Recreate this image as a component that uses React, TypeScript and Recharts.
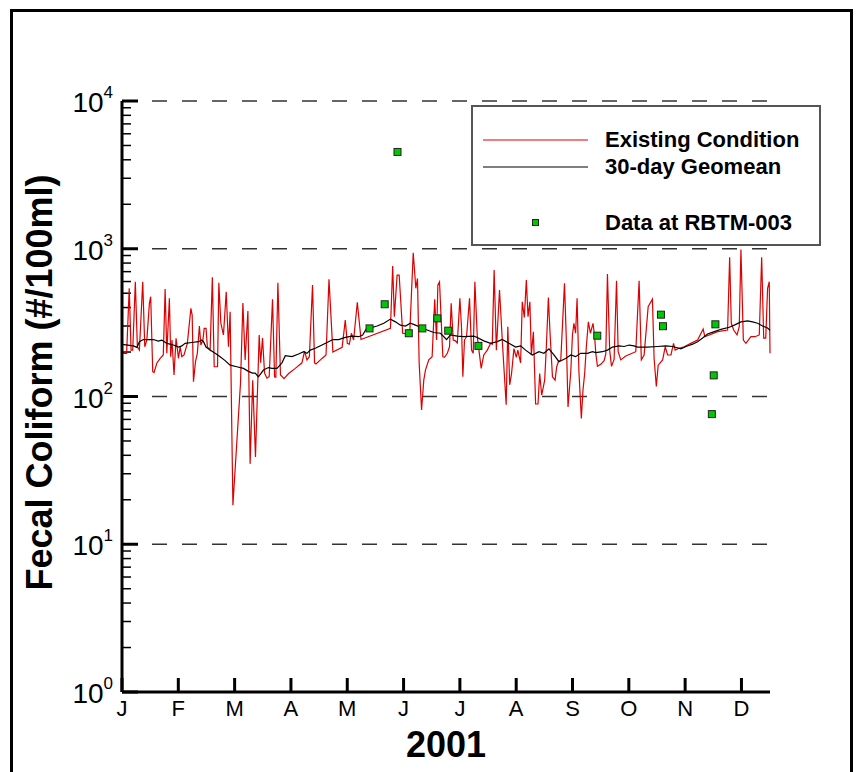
import React from 'react';
import { ComposedChart, Line, Scatter, XAxis, YAxis, ReferenceLine, Legend, Label } from 'recharts';

const FONT = '"Liberation Sans", Arial, Helvetica, sans-serif';
const RED = '#dd0000';
const GREEN = '#00c800';

const monthLabels = ['J', 'F', 'M', 'A', 'M', 'J', 'J', 'A', 'S', 'O', 'N', 'D'];
const monthTicks = monthLabels.map((_, i) => (i * 365) / 12);

const decades = [1, 10, 100, 1000, 10000];
const minorSteps = [2, 3, 4, 5, 6, 7, 8, 9];
const minorTicks = decades.slice(0, -1).flatMap(d => minorSteps.map(m => m * d));
const gridValues = [10, 100, 1000, 10000];

// plot is 648px wide for 350 days; minor y tick length expressed in days
const MINOR_TICK = 9 * (350 / 648);

// [day of 2001, #/100ml] - vertices of the modelled series
const existingCondition: [number, number][] = [
    [0.5, 196], [2.5, 196], [3.9, 540], [4.9, 206], [5.8, 206], [7.2, 598], [8.3, 217], [9.4, 206], [11.2, 598], [12.3, 217],
    [13.4, 241], [14.8, 427], [15.5, 474], [16.6, 147], [17.3, 145], [18.8, 168], [20.6, 181], [22.3, 191], [23.3, 534], [24.2, 196],
    [25.6, 462], [26.3, 186], [27, 241], [28.1, 140], [29.2, 248], [30.5, 181], [31.4, 217], [32.3, 186], [33.5, 191], [35.3, 229],
    [37.2, 395], [37.9, 356], [38.6, 126], [39.7, 172], [40.7, 196], [41.8, 300], [42.6, 223], [43.7, 241], [44.4, 289], [45.4, 289],
    [46.1, 217], [47.6, 206], [48.8, 640], [49.8, 159], [51.6, 159], [52.3, 589], [53.4, 313], [54.8, 261], [56.3, 512], [57.5, 217],
    [58.4, 375], [59.9, 18.4], [64, 123], [65.3, 429], [66.5, 177], [68, 379], [69.2, 35], [70.6, 129], [72.1, 39], [74.1, 261],
    [74.9, 169], [75.9, 249], [77, 144], [78.3, 133], [79.5, 136], [81.3, 455], [82.4, 136], [83.1, 135], [84.2, 589], [85.6, 140],
    [87.5, 132], [90, 143], [93.6, 155], [97.2, 169], [98.6, 203], [99.9, 177], [101.2, 186], [102.9, 568], [104, 169], [104.8, 166],
    [108, 181], [110.2, 191], [111.8, 621], [113.9, 200], [118.9, 215], [120.6, 329], [121.7, 229], [122.8, 226], [123.9, 268], [125.1, 241],
    [127.1, 434], [129.1, 243], [145, 289], [146.2, 764], [147.1, 347], [148.6, 664], [149.7, 664], [151.6, 268], [155.4, 265], [157.3, 940],
    [158.7, 540], [159.6, 630], [160.5, 169], [161.8, 81], [163, 129], [163.9, 151], [165.7, 177], [167.5, 186], [168.9, 455], [169.9, 241],
    [170.6, 568], [171.5, 598], [172.4, 329], [173.3, 186], [174.2, 184], [175.7, 196], [176.9, 217], [177.8, 427], [178.9, 241], [180.1, 238],
    [181.1, 230], [182.5, 462], [183.4, 289], [184.1, 136], [185, 241], [186.1, 254], [187.7, 462], [188.8, 206], [189.7, 196], [190.6, 598],
    [191.9, 254], [194, 155], [195.4, 191], [197.3, 206], [199.1, 229], [200, 226], [201, 718], [202.2, 206], [203.9, 526], [205.6, 217],
    [207.5, 88], [208.4, 297], [209.4, 120], [210.4, 143], [211.7, 211], [213, 184], [213.8, 206], [215.3, 169], [216.2, 438], [217.3, 343],
    [218.4, 614], [219.3, 347], [220.3, 438], [221.1, 191], [222.2, 274], [223.4, 89], [224.7, 89], [225.6, 143], [226.7, 102], [228.3, 129],
    [229.2, 217], [230.3, 468], [231.2, 268], [232.5, 136], [233.9, 129], [234.8, 159], [235.7, 172], [237, 177], [239, 583], [240, 241],
    [240.9, 85], [242.4, 147], [243.3, 261], [244.1, 313], [245, 268], [245.8, 462], [246.8, 147], [248.1, 71], [249, 111], [249.9, 143],
    [250.8, 217], [251.9, 320], [253, 268], [254.4, 313], [255.3, 254], [255.9, 196], [256.8, 160], [258.6, 165], [260.4, 175], [261.3, 194],
    [262.2, 675], [263.4, 206], [264.4, 160], [265.8, 178], [267.1, 607], [268, 201], [269.4, 177], [272.1, 188], [277.5, 201], [279.3, 607],
    [280.5, 177], [282, 191], [284.2, 405], [286.5, 455], [287.4, 181], [288.6, 117], [289.6, 163], [292, 177], [293.4, 217], [294.7, 191],
    [296.5, 191], [297.9, 229], [298.8, 206], [300.9, 212], [303.6, 217], [307.2, 229], [310.9, 241], [313.9, 286], [314.8, 254], [321.7, 275],
    [327.1, 282], [328.2, 877], [329.1, 313], [330.4, 282], [332.2, 261], [333.4, 297], [334.3, 990], [335.6, 241], [337, 229], [339.7, 254],
    [341.9, 254], [344.2, 261], [345.5, 877], [346.6, 248], [347.7, 248], [348.7, 540], [349.6, 598], [350, 196],
];

const geomean30: [number, number][] = [
    [0, 225], [6.1, 220], [8.1, 215], [9.4, 235], [11.5, 243], [16.9, 243], [19.6, 237], [21.5, 241], [24.2, 229], [27.8, 223],
    [30.5, 216], [32.3, 220], [34.1, 229], [37.7, 232], [41.3, 235], [43.1, 241], [44, 235], [45.4, 216], [47.6, 206], [50.3, 196],
    [53, 186], [55.7, 175], [58.4, 163], [62, 159], [65.6, 155], [68.3, 148], [70.5, 144], [71.9, 144], [73.7, 136], [76.4, 151],
    [79.1, 157], [81, 155], [83.7, 155], [86.4, 169], [88.2, 189], [91.8, 186], [95.4, 194], [98.1, 201], [99.9, 196], [101.7, 206],
    [104.4, 212], [108, 223], [111.6, 235], [113.8, 243], [117, 243], [120.6, 251], [124.3, 256], [127.8, 254], [130, 261], [131.8, 285],
    [137.8, 300], [141.4, 313], [145, 334], [147.7, 320], [150.4, 304], [153.1, 300], [155.8, 313], [158.5, 304], [161.2, 294], [164.8, 282],
    [168.4, 271], [172, 268], [175.3, 243], [177.4, 261], [181.1, 256], [184.6, 254], [190, 256], [191.9, 251], [195.4, 238], [199.1, 229],
    [202.7, 235], [205.4, 243], [209, 229], [212.6, 216], [215.3, 220], [218, 206], [221.6, 191], [225.2, 201], [227.9, 196], [230.6, 210],
    [233.3, 191], [236, 172], [239.6, 181], [242.4, 191], [245, 186], [247.7, 196], [251.4, 196], [254.1, 201], [255.9, 198], [259.5, 201],
    [262.2, 206], [264.9, 216], [268.5, 220], [271.2, 218], [273.9, 223], [276.6, 220], [278.4, 216], [283.8, 216], [289.3, 218], [293.7, 220],
    [297.4, 218], [301.9, 210], [304.6, 218], [308.2, 226], [310.9, 235], [313.6, 249], [316.3, 265], [319.9, 275], [323.5, 285], [328, 294],
    [330.7, 304], [334.3, 320], [337.9, 325], [340.6, 320], [343.3, 313], [346, 300], [348.7, 291], [350, 280],
];

const stationSamples: [number, number][] = [
    [133.7, 289], [141.9, 421], [148.8, 4520], [154.9, 268], [162.2, 289], [170.3, 338], [176.2, 279],
    [192.5, 220], [256.7, 258], [291.1, 358], [292.2, 299], [318.6, 76], [319.6, 139], [320.5, 308],
];

const toRows = (pairs: [number, number][]) => pairs.map(([day, value]) => ({ day, value }));
const existingRows = toRows(existingCondition);
const geomeanRows = toRows(geomean30);
const sampleRows = toRows(stationSamples);

const YTick = (props: any) => {
    const { x, y, payload } = props;
    const exp = Math.round(Math.log10(payload.value));
    return (
        <text x={x - 9} y={y + 11} textAnchor="end" fontSize={28} fontFamily={FONT} fill="#000">
            10<tspan dy={-14} fontSize={17}>{exp}</tspan>
        </text>
    );
};

const XTick = (props: any) => {
    const { x, y, index } = props;
    return (
        <text x={x} y={y + 24} textAnchor="middle" fontSize={22} fontFamily={FONT} fill="#000">{monthLabels[index]}</text>
    );
};

const SquareMarker = (props: any) => (
    <rect x={props.cx - 3.5} y={props.cy - 3.5} width={7} height={7} fill={GREEN} stroke="#222" strokeWidth={1} />
);

const YTitle = (props: any) => {
    const vb = props.viewBox;
    const cy = vb.y + vb.height / 2 - 14;
    return (
        <text transform={`translate(52,${cy}) rotate(-90)`} textAnchor="middle" fontSize={36} fontWeight="bold" fontFamily={FONT} fill="#000">
            Fecal Coliform (#/100ml)
        </text>
    );
};

const XTitle = (props: any) => {
    const vb = props.viewBox;
    return (
        <text x={vb.x + vb.width / 2} y={vb.y + 65} textAnchor="middle" fontSize={36} fontWeight="bold" fontFamily={FONT} fill="#000">
            2001
        </text>
    );
};

const LegendBox = () => (
    <svg width={350} height={141} style={{ display: 'block' }}>
        <rect x={1} y={1} width={348} height={139} fill="#fff" stroke="#555" strokeWidth={2} />
        <line x1={12} x2={117} y1={35} y2={35} stroke={RED} strokeWidth={1.2} />
        <text x={134} y={42} fontSize={22} fontWeight="bold" fontFamily={FONT} fill="#000">Existing Condition</text>
        <line x1={12} x2={117} y1={62} y2={62} stroke="#000" strokeWidth={1.2} />
        <text x={134} y={69} fontSize={22} fontWeight="bold" fontFamily={FONT} fill="#000">30-day Geomean</text>
        <rect x={61.5} y={114.5} width={6} height={6} fill={GREEN} stroke="#222" strokeWidth={1} />
        <text x={134} y={125} fontSize={22} fontWeight="bold" fontFamily={FONT} fill="#000">Data at RBTM-003</text>
    </svg>
);

export default function App() {
    return (
        <div style={{ position: 'absolute', left: 0, top: 0, width: 862, height: 772, overflow: 'hidden', background: '#fff' }}>
            <div style={{ position: 'absolute', left: 10, top: 9, width: 843, height: 800, border: '3px solid #000', boxSizing: 'border-box' }} />
            <ComposedChart width={862} height={772} margin={{ top: 101, right: 92, bottom: 0, left: 0 }}>
                <XAxis
                    dataKey="day"
                    type="number"
                    domain={[0, 350]}
                    ticks={monthTicks}
                    interval={0}
                    height={80}
                    tickSize={-14}
                    tickMargin={14}
                    tickLine={{ stroke: '#000', strokeWidth: 3 }}
                    tick={<XTick />}
                    axisLine={{ stroke: '#000', strokeWidth: 3 }}
                >
                    <Label content={<XTitle />} />
                </XAxis>
                <YAxis
                    dataKey="value"
                    type="number"
                    scale="log"
                    domain={[1, 10000]}
                    ticks={decades}
                    interval={0}
                    width={122}
                    tickSize={-16}
                    tickMargin={16}
                    tickLine={{ stroke: '#000', strokeWidth: 3 }}
                    tick={<YTick />}
                    axisLine={{ stroke: '#000', strokeWidth: 3 }}
                >
                    <Label content={<YTitle />} />
                </YAxis>

                {gridValues.map(v => (
                    <ReferenceLine key={`g${v}`} y={v} stroke="#333" strokeWidth={1.5} strokeDasharray="15 15" />
                ))}
                {minorTicks.map(v => (
                    <ReferenceLine key={`m${v}`} segment={[{ x: 0, y: v }, { x: MINOR_TICK, y: v }]} stroke="#000" strokeWidth={1.5} />
                ))}

                <Line data={existingRows} dataKey="value" type="linear" stroke={RED} strokeWidth={1.2} dot={false} activeDot={false} isAnimationActive={false} />
                <Line data={geomeanRows} dataKey="value" type="linear" stroke="#000" strokeWidth={1.2} dot={false} activeDot={false} isAnimationActive={false} />
                <Scatter data={sampleRows} dataKey="value" shape={<SquareMarker />} isAnimationActive={false} />

                <Legend
                    content={<LegendBox />}
                    layout="horizontal"
                    verticalAlign="middle"
                    align="center"
                    wrapperStyle={{ left: 471, top: 105, width: 350, height: 141 }}
                />
            </ComposedChart>
        </div>
    );
}
